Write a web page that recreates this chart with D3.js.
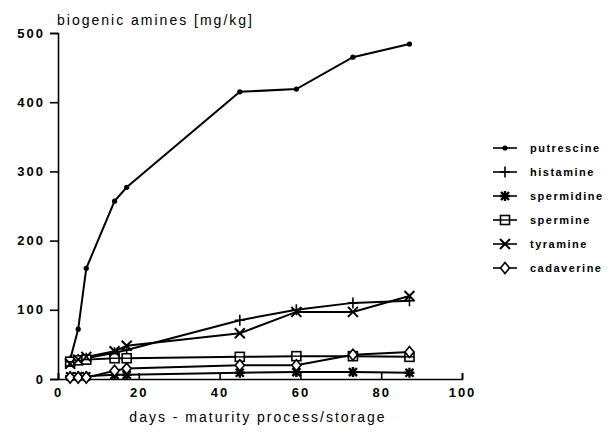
<!DOCTYPE html>
<head>
    <title>Biogenic amines</title>
    <style>
        body { margin: 0; background: #fff; }
        text { font-family: 'Liberation Sans', Arial, sans-serif; fill: #000; }
        .axis path, .axis line { fill: none; stroke: #000; stroke-width: 1.6px; }
        .axis text { font-size: 13px; font-weight: bold; letter-spacing: 2px; }
        .line { fill: none; stroke: #000; stroke-width: 2px; }
        .legend text { font-size: 11px; font-weight: bold; letter-spacing: 1.5px; }
        .label { font-size: 14px; letter-spacing: 2px; }
    </style>
    <script src="https://d3js.org/d3.v7.min.js"></script>
</head>
<body>
<script>
    "use strict";
    // data (days vs mg/kg)
    const days = [3, 5, 7, 14, 17, 45, 59, 73, 87];
    const putrescine = [28, 72, 160, 257, 277, 415, 419, 465, 484];
    const histamine = [26, 28, 30, 38, 42, 85, 100, 110, 113];
    const spermidine = [4, 4, 4, 6, 6, 9, 10, 10, 9];
    const spermine = [25, 27, 28, 30, 30, 32, 33, 33, 32];
    const tyramine = [22, 28, 32, 40, 48, 66, 97, 97, 120];
    const cadaverine = [2, 2, 2, 12, 15, 20, 20, 35, 39];
    const names = ["putrescine", "histamine", "spermidine", "spermine", "tyramine", "cadaverine"];
    const series = [putrescine, histamine, spermidine, spermine, tyramine, cadaverine];
    const xTicks = [0, 20, 40, 60, 80, 100];
    const yTicks = [0, 100, 200, 300, 400, 500];

    const W = 613, H = 437;
    const x = d3.scaleLinear().domain([0, 100]).range([58, 462]);
    const y = d3.scaleLinear().domain([0, 500]).range([379, 33]);

    const svg = d3.select("body").append("svg")
        .attr("width", W).attr("height", H);

    svg.append("g")
        .attr("class", "axis")
        .attr("transform", "translate(0," + y(0) + ")")
        .call(d3.axisBottom(x).tickValues(xTicks).tickSize(-6).tickPadding(9));

    svg.append("g")
        .attr("class", "axis")
        .attr("transform", "translate(" + x(0) + ",0)")
        .call(d3.axisLeft(y).tickValues(yTicks).tickSize(8).tickPadding(5));

    svg.append("text")
        .attr("class", "label")
        .attr("x", 57).attr("y", 25)
        .text("biogenic amines [mg/kg]");

    svg.append("text")
        .attr("class", "label")
        .attr("x", 258).attr("y", 422)
        .attr("text-anchor", "middle")
        .text("days - maturity process/storage");

    // marker drawing, one per series
    function marker(g, i) {
        if (i === 0) {
            g.append("circle").attr("r", 2.6).attr("fill", "#000");
        } else if (i === 1) {
            g.append("path").attr("d", "M-5,0H5M0,-5.5V5.5")
                .attr("stroke", "#000").attr("stroke-width", 1.6).attr("fill", "none");
        } else if (i === 2) {
            g.append("path").attr("d", "M-5,0H5M0,-5V5M-4,-4L4,4M-4,4L4,-4")
                .attr("stroke", "#000").attr("stroke-width", 2.4).attr("fill", "none");
        } else if (i === 3) {
            g.append("rect").attr("x", -4.5).attr("y", -4.5).attr("width", 9).attr("height", 9)
                .attr("stroke", "#000").attr("stroke-width", 1.6).attr("fill", "#fff");
            g.append("path").attr("d", "M-4.5,0H4.5").attr("stroke", "#000").attr("stroke-width", 1.4);
        } else if (i === 4) {
            g.append("path").attr("d", "M-5,-5L5,5M-5,5L5,-5")
                .attr("stroke", "#000").attr("stroke-width", 2).attr("fill", "none");
        } else {
            g.append("path").attr("d", "M0,-5.5L4.5,0L0,5.5L-4.5,0Z")
                .attr("stroke", "#000").attr("stroke-width", 1.6).attr("fill", "#fff");
        }
    }

    const line = d3.line()
        .x(function (d, j) { return x(days[j]); })
        .y(function (d) { return y(d); });

    series.forEach(function (vals) {
        svg.append("path").datum(vals).attr("class", "line").attr("d", line);
    });
    series.forEach(function (vals, i) {
        vals.forEach(function (v, j) {
            const g = svg.append("g")
                .attr("transform", "translate(" + x(days[j]) + "," + y(v) + ")");
            marker(g, i);
        });
    });

    // legend
    const legend = svg.append("g").attr("class", "legend");
    names.forEach(function (n, i) {
        const ly = 148 + i * 24;
        const g = legend.append("g").attr("transform", "translate(505," + ly + ")");
        g.append("path").attr("d", "M-12,0H12").attr("stroke", "#000").attr("stroke-width", 1.6);
        marker(g, i);
        g.append("text").attr("x", 25).attr("y", 4).text(n);
    });
</script>
</body>
